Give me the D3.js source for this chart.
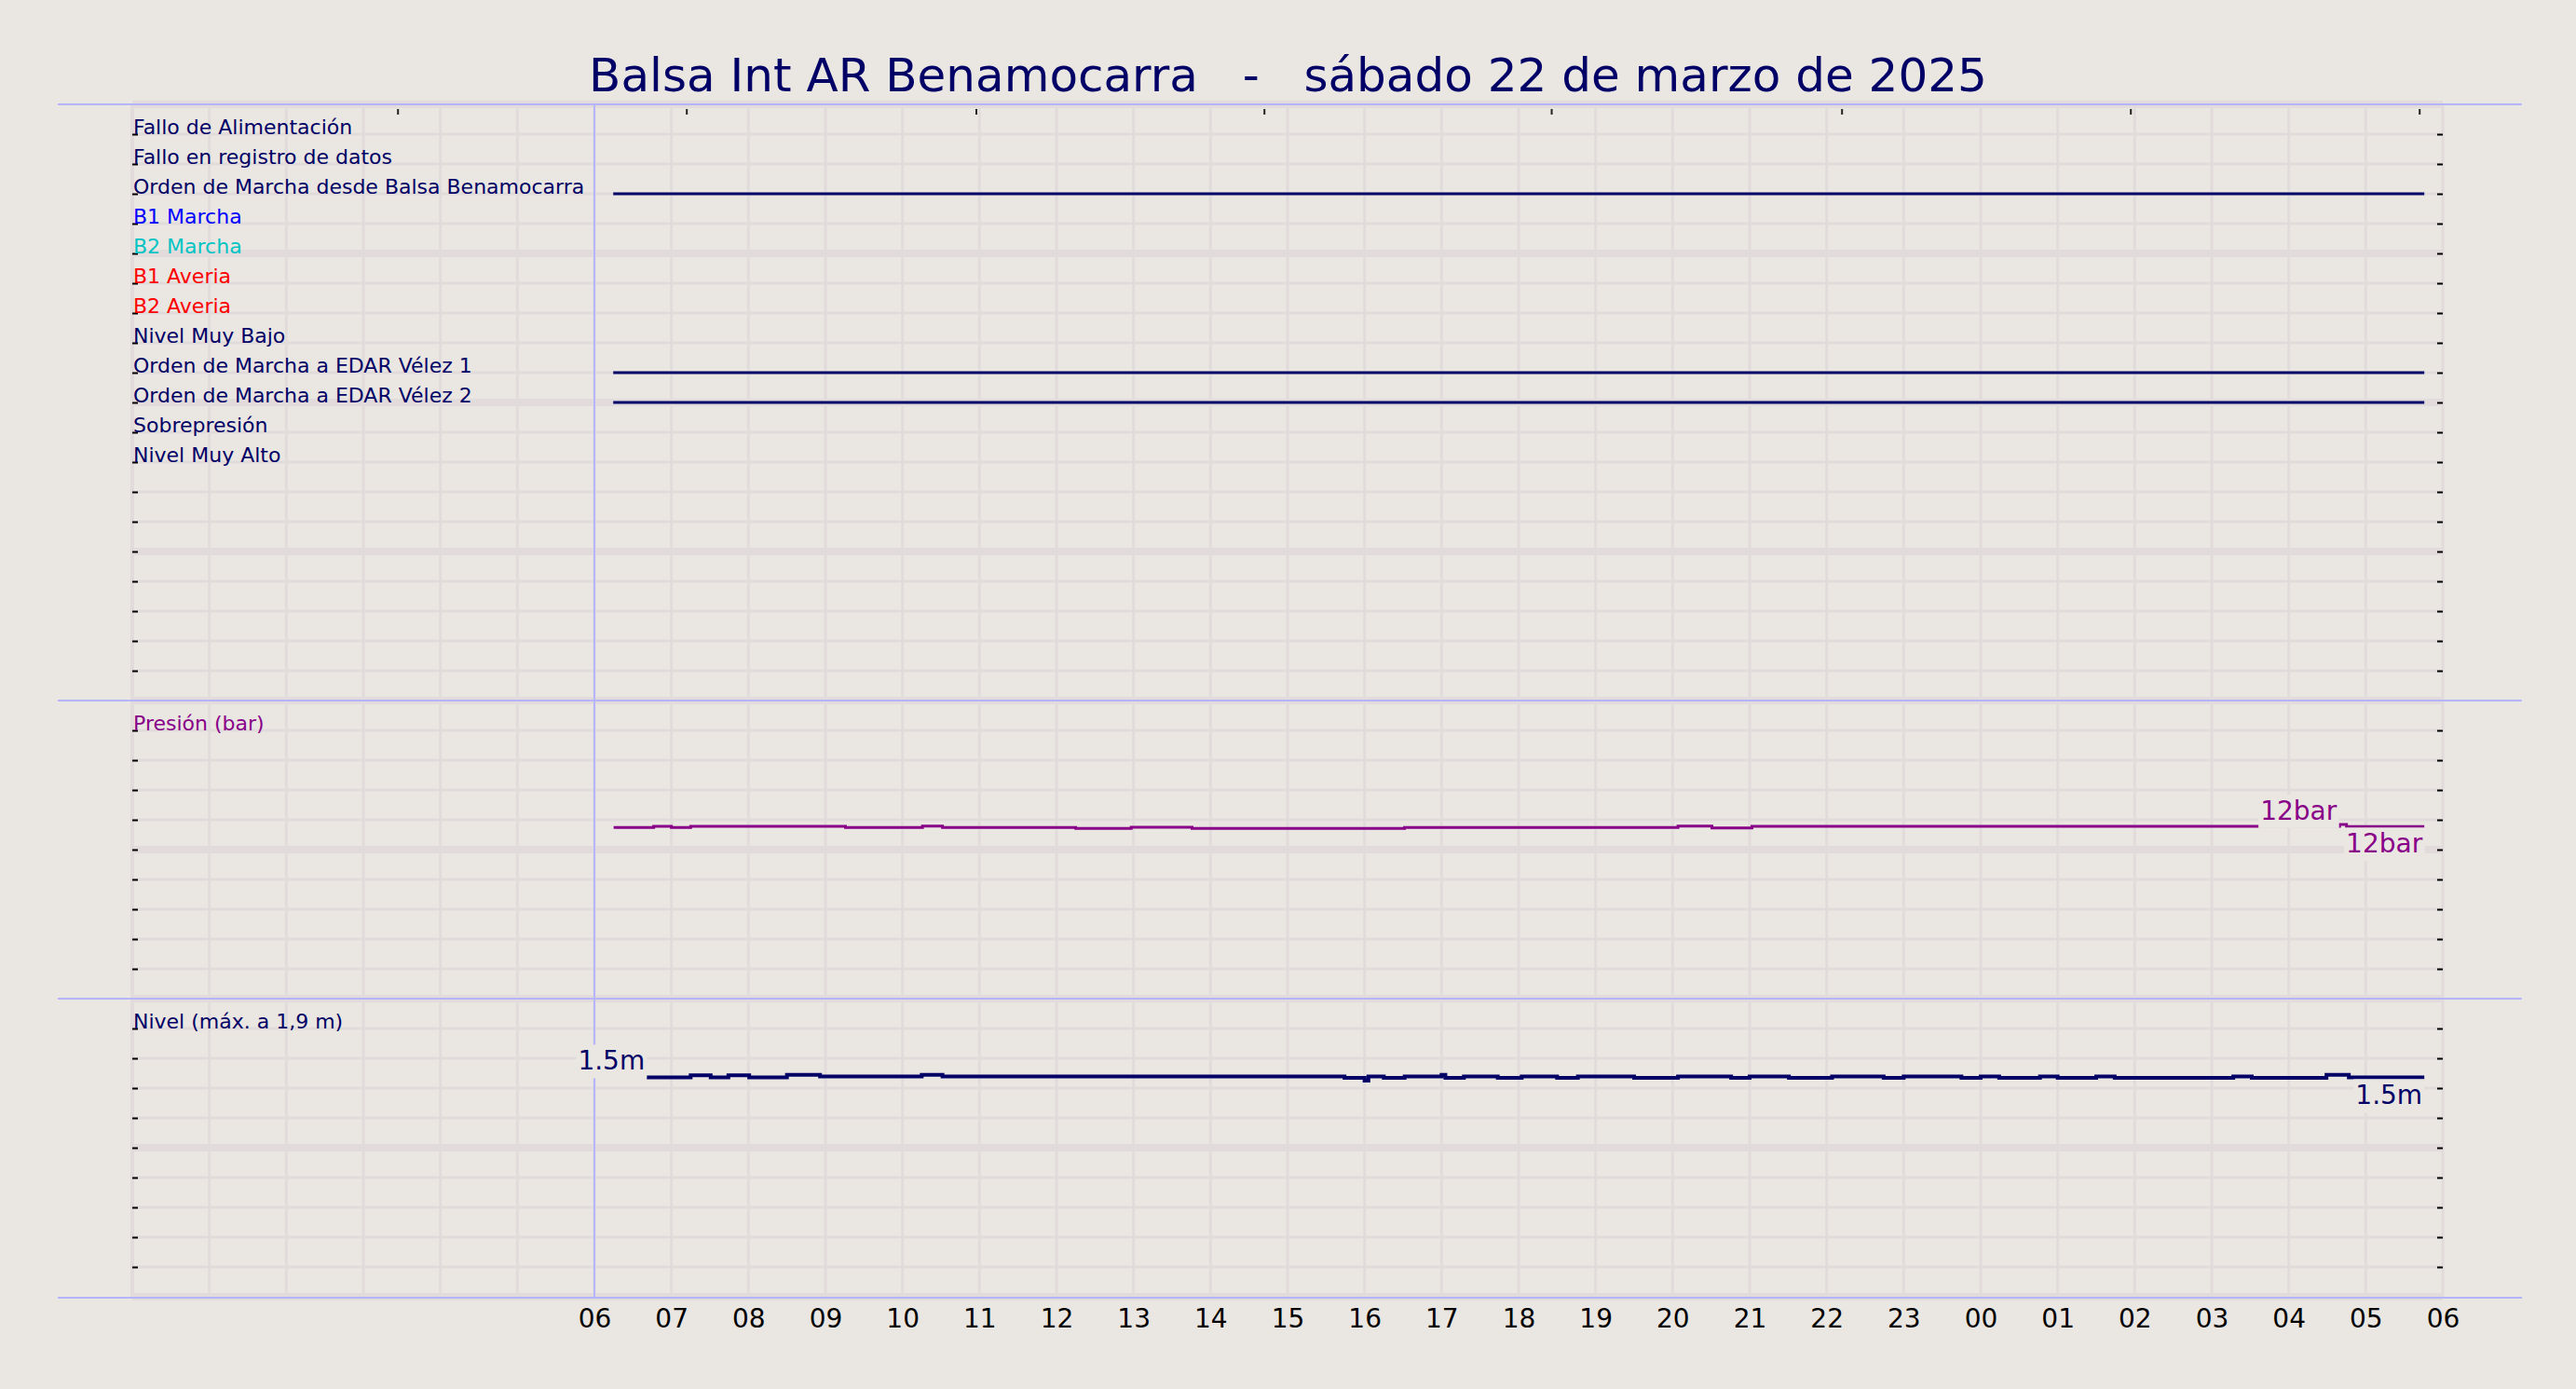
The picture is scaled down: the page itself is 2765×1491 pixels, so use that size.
<!DOCTYPE html>
<html>
<head>
<meta charset="utf-8">
<script src="https://cdn.jsdelivr.net/npm/d3@7"></script>
<style>
  body { margin: 0; background: #eae6e1; }
  svg { display: block; font-family: "DejaVu Sans", sans-serif; }
</style>
</head>
<body>
<svg id="chart"></svg>
<script>
// DATA -------------------------------------------------------------
const title = "Balsa Int AR Benamocarra   -   sábado 22 de marzo de 2025";

// digital signals, one per row of the top panel
const rowLabels = [
  "Fallo de Alimentación",
  "Fallo en registro de datos",
  "Orden de Marcha desde Balsa Benamocarra",
  "B1 Marcha",
  "B2 Marcha",
  "B1 Averia",
  "B2 Averia",
  "Nivel Muy Bajo",
  "Orden de Marcha a EDAR Vélez 1",
  "Orden de Marcha a EDAR Vélez 2",
  "Sobrepresión",
  "Nivel Muy Alto"
];
const rowColors = ["#000066", "#000066", "#000066", "#0000ff", "#00c4c4", "#ff0000",
                   "#ff0000", "#000066", "#000066", "#000066", "#000066", "#000066"];

// periods a signal is on (hours from 00:00 of the day)
const onRows  = [3, 9, 10];
const onStart = [6.245, 6.245, 6.245];
const onEnd   = [29.76, 29.76, 29.76];

// pressure (bar), step series
const pressureHours = [6.25, 6.77, 7.0, 7.25, 9.26, 10.26, 10.52, 12.25, 12.97, 13.76,
                       16.52, 20.07, 20.51, 21.03, 28.66, 28.75, 29.76];
const pressureBar   = [11.48, 11.56, 11.48, 11.56, 11.48, 11.58, 11.48, 11.42, 11.5, 11.42,
                       11.48, 11.58, 11.46, 11.56, 11.69, 11.54, 11.54];

// level (m), step series
const levelHours = [6.68, 7.25, 7.51, 7.74, 8.01, 8.5, 8.93, 10.25, 10.52, 15.74,
                    16.0, 16.05, 16.25, 16.52, 17.0, 17.05, 17.29, 17.73, 18.04, 18.5,
                    18.77, 19.5, 20.07, 20.76, 21.0, 21.51, 22.07, 22.74, 23.0, 23.75,
                    24.0, 24.24, 24.77, 25.0, 25.5, 25.74, 27.28, 27.52, 28.49, 28.78,
                    29.76];
const levelM = [1.474, 1.487, 1.474, 1.487, 1.474, 1.49, 1.479, 1.49, 1.479, 1.471,
                1.452, 1.479, 1.471, 1.479, 1.49, 1.471, 1.479, 1.471, 1.479, 1.471,
                1.479, 1.471, 1.479, 1.471, 1.479, 1.471, 1.479, 1.471, 1.479, 1.471,
                1.479, 1.471, 1.479, 1.471, 1.479, 1.471, 1.479, 1.471, 1.491, 1.474,
                1.474];

// x axis
const hourTicks  = [6, 7, 8, 9, 10, 11, 12, 13, 14, 15, 16, 17, 18, 19, 20, 21, 22, 23,
                    24, 25, 26, 27, 28, 29, 30];
const hourLabels = ["06", "07", "08", "09", "10", "11", "12", "13", "14", "15", "16", "17",
                    "18", "19", "20", "21", "22", "23", "00", "01", "02", "03", "04", "05", "06"];
const gridHours  = [0, 1, 2, 3, 4, 5, 6, 7, 8, 9, 10, 11, 12, 13, 14, 15, 16, 17, 18, 19,
                    20, 21, 22, 23, 24, 25, 26, 27, 28, 29, 30];
const topTickHours = [3.45, 7.2, 10.96, 14.7, 18.43, 22.2, 25.95, 29.7];

const panel1Rows = [1, 2, 3, 4, 5, 6, 7, 8, 9, 10, 11, 12, 13, 14, 15, 16, 17, 18, 19];
const panel2Rows = [1, 2, 3, 4, 5, 6, 7, 8, 9];

// LAYOUT -----------------------------------------------------------
const width = 2765, height = 1491;
const bg = "#eae6e1", gridColor = "#e1dcdb", blue = "#b4b4ff";
const navy = "#000066", purple = "#880088";

const svg = d3.select("#chart").attr("width", width).attr("height", height);
svg.append("rect").attr("width", width).attr("height", height).attr("fill", bg);

const x = d3.scaleLinear().domain([0, 30]).range([142, 2622]);

// three stacked panels, rows of 32 px
const yRows  = d3.scaleLinear().domain([0, 20]).range([112, 752]);   // top panel rows
const yPres  = d3.scaleLinear().domain([0, 20]).range([1072, 752]);  // bar
const yLevel = d3.scaleLinear().domain([0, 2]).range([1393, 1072]);  // m
const yRow2  = d3.scaleLinear().domain([0, 10]).range([752, 1072]);
const yRow3  = d3.scaleLinear().domain([0, 10]).range([1072, 1392]);

const gridRows = [];
[[yRows, 20], [yRow2, 10], [yRow3, 10]].forEach(([s, n]) => {
  for (let k = 0; k <= n; k++) gridRows.push({ y: s(k), major: k % 5 === 0 });
});

// GRID -------------------------------------------------------------
svg.append("g").selectAll("line")
  .data(gridRows)
  .join("line")
  .attr("x1", x(0)).attr("x2", x(30))
  .attr("y1", d => d.y).attr("y2", d => d.y)
  .attr("stroke", gridColor)
  .attr("stroke-width", d => d.major ? 8 : 3);

svg.append("g").selectAll("line")
  .data(gridHours)
  .join("line")
  .attr("x1", d => x(d)).attr("x2", d => x(d))
  .attr("y1", 112).attr("y2", 1393)
  .attr("stroke", gridColor)
  .attr("stroke-width", d => d === 0 ? 4 : 3);

// panel separators and day start line
svg.append("g").selectAll("line")
  .data([112, 752, 1072, 1393])
  .join("line")
  .attr("x1", 62).attr("x2", 2707)
  .attr("y1", d => d).attr("y2", d => d)
  .attr("stroke", blue).attr("stroke-width", 2);

svg.append("line")
  .attr("x1", x(6)).attr("x2", x(6))
  .attr("y1", 112).attr("y2", 1393)
  .attr("stroke", blue).attr("stroke-width", 2);

// TICKS ------------------------------------------------------------
function rowTicks(scale, rows) {
  svg.append("g")
    .attr("transform", `translate(${x(0)},0)`)
    .call(d3.axisRight(scale).tickValues(rows).tickSize(6).tickFormat(""))
    .call(g => g.select(".domain").remove());
  svg.append("g")
    .attr("transform", `translate(${x(30)},0)`)
    .call(d3.axisLeft(scale).tickValues(rows).tickSize(6).tickFormat(""))
    .call(g => g.select(".domain").remove());
}
rowTicks(yRows, panel1Rows);
rowTicks(yRow2, panel2Rows);
rowTicks(yRow3, panel2Rows);
svg.selectAll(".tick line").attr("stroke", "#000").attr("stroke-width", 2);

svg.append("g").selectAll("line")
  .data(topTickHours)
  .join("line")
  .attr("x1", d => x(d)).attr("x2", d => x(d))
  .attr("y1", 117).attr("y2", 123)
  .attr("stroke", "#222").attr("stroke-width", 2);

// X AXIS LABELS ----------------------------------------------------
svg.append("g")
  .attr("transform", `translate(0, 1393)`)
  .call(d3.axisBottom(x).tickValues(hourTicks).tickSize(0)
    .tickFormat((d, i) => hourLabels[i]))
  .call(g => g.select(".domain").remove())
  .selectAll("text")
  .attr("y", 32).attr("dy", 0)
  .attr("font-size", 28)
  .attr("font-family", "DejaVu Sans")
  .attr("fill", "#000");

// TITLE ------------------------------------------------------------
svg.append("text")
  .attr("x", width / 2).attr("y", 98)
  .attr("text-anchor", "middle")
  .attr("xml:space", "preserve")
  .style("white-space", "pre")
  .attr("font-size", 50)
  .attr("fill", navy)
  .text(title);

// DIGITAL ROWS -----------------------------------------------------
svg.append("g").selectAll("line")
  .data(onRows)
  .join("line")
  .attr("x1", (d, i) => x(onStart[i])).attr("x2", (d, i) => x(onEnd[i]))
  .attr("y1", d => yRows(d)).attr("y2", d => yRows(d))
  .attr("stroke", navy).attr("stroke-width", 3);

svg.append("g").selectAll("text")
  .data(rowLabels)
  .join("text")
  .attr("x", 143)
  .attr("y", (d, i) => yRows(i + 1))
  .attr("font-size", 22)
  .attr("fill", (d, i) => rowColors[i])
  .text(d => d);

// panel titles
svg.append("text").attr("x", 143).attr("y", yRow2(1))
  .attr("font-size", 22).attr("fill", purple).text("Presión (bar)");
svg.append("text").attr("x", 143).attr("y", yRow3(1))
  .attr("font-size", 22).attr("fill", navy).text("Nivel (máx. a 1,9 m)");

// ANALOG SERIES ----------------------------------------------------
const pressure = pressureHours.map((h, i) => ({ h, v: pressureBar[i] }));
const level = levelHours.map((h, i) => ({ h, v: levelM[i] }));

svg.append("path")
  .datum(pressure)
  .attr("fill", "none").attr("stroke", purple).attr("stroke-width", 3)
  .attr("d", d3.line().curve(d3.curveStepAfter).x(d => x(d.h)).y(d => yPres(d.v)));

svg.append("path")
  .datum(level)
  .attr("fill", "none").attr("stroke", navy).attr("stroke-width", 4)
  .attr("d", d3.line().curve(d3.curveStepAfter).x(d => x(d.h)).y(d => yLevel(d.v)));

// value labels with a background box
function valueLabel(px, py, txt, color) {
  const g = svg.append("g");
  const t = g.append("text")
    .attr("x", px).attr("y", py)
    .attr("text-anchor", "end")
    .attr("font-size", 28)
    .attr("fill", color)
    .text(txt);
  const b = t.node().getBBox();
  g.insert("rect", "text")
    .attr("x", b.x - 2).attr("y", b.y - 1)
    .attr("width", b.width + 4).attr("height", b.height + 3)
    .attr("fill", bg);
}

const fmtBar = v => d3.format(".0f")(v) + "bar";
const fmtM = v => d3.format(".1f")(v) + "m";

const pMax = pressure.reduce((a, b) => b.v > a.v ? b : a);
const pLast = pressure[pressure.length - 1];
valueLabel(x(pMax.h) - 3, yPres(pMax.v) - 5, fmtBar(pMax.v), purple);
valueLabel(x(pLast.h) - 2, yPres(pLast.v) + 28, fmtBar(pLast.v), purple);

const lFirst = level[0];
const lLast = level[level.length - 1];
valueLabel(x(lFirst.h) - 2, yLevel(lFirst.v) - 8, fmtM(lFirst.v), navy);
valueLabel(x(lLast.h) - 2, yLevel(lLast.v) + 29, fmtM(lLast.v), navy);
</script>
</body>
</html>
